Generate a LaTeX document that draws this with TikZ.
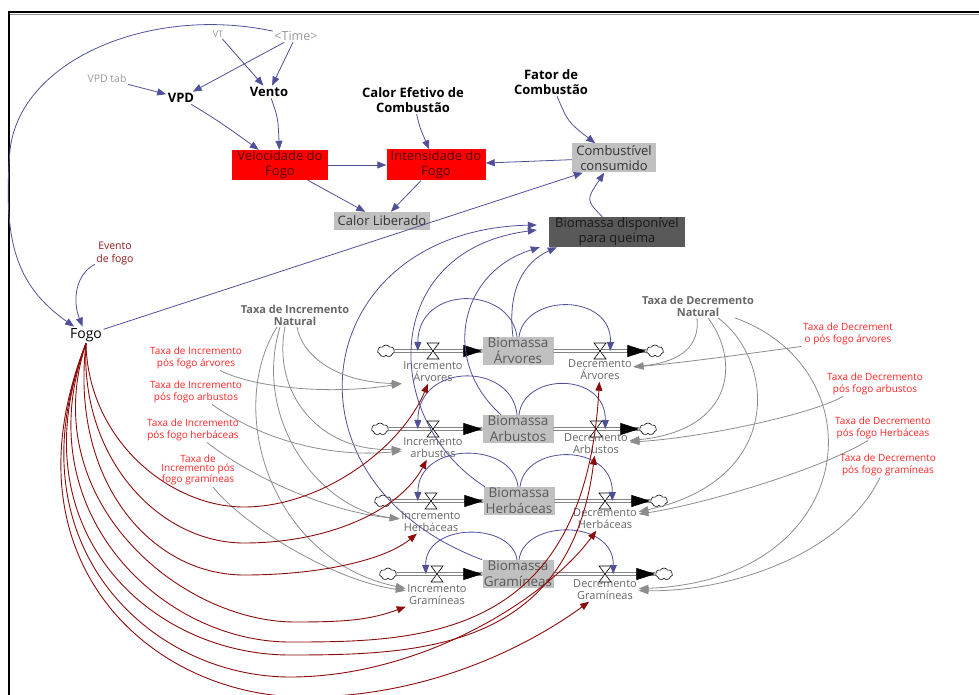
\documentclass[tikz,border=0pt]{standalone}
\usepackage{fontspec}
\setmainfont{Open Sans}
\usetikzlibrary{arrows.meta,shapes.symbols}

\definecolor{linkblue}{RGB}{80,80,152}
\definecolor{linkgray}{RGB}{140,140,140}
\definecolor{linkred}{RGB}{140,12,12}
\definecolor{labelred}{RGB}{255,35,35}
\definecolor{eventred}{RGB}{140,25,25}
\definecolor{boxgray}{RGB}{192,192,192}
\definecolor{boxdark}{RGB}{89,89,89}
\definecolor{boxtext}{RGB}{85,0,0}

\tikzset{
  blink/.style={draw=linkblue, line width=0.8pt, -{Triangle[length=9pt,width=7pt]}},
  glink/.style={draw=linkgray, line width=0.8pt, -{Triangle[length=10pt,width=7pt]}},
  rlink/.style={draw=linkred, line width=0.9pt, -{Triangle[length=9pt,width=7pt]}},
  shadowvar/.style={text=black!40, inner sep=1.5pt},
  mainvar/.style={font=\bfseries\fontsize{13}{15}\selectfont, align=center, inner sep=1.5pt},
  redbox/.style={fill=red, text=boxtext, font=\fontsize{13}{15}\selectfont, align=center, inner sep=1pt},
  graybox/.style={fill=boxgray, text=black!80, font=\fontsize{13}{15}\selectfont, align=center, inner sep=1pt},
  darkbox/.style={fill=boxdark, text=black!90, font=\fontsize{13}{15}\selectfont, align=center, inner sep=1pt},
  stock/.style={fill=boxgray, text=black!65, font=\fontsize{13.5}{16}\selectfont, align=center,
    minimum width=71pt, minimum height=28pt, inner sep=0pt},
  ratelbl/.style={text=black!60, font=\fontsize{11}{12}\selectfont, align=center, inner sep=1.5pt},
  ratevar/.style={text=black!60, font=\bfseries\fontsize{11}{12}\selectfont, align=center, inner sep=1.5pt},
  firelbl/.style={text=labelred, font=\fontsize{10}{11.5}\selectfont, align=center, inner sep=1.5pt},
  valve/.style={minimum width=12pt, minimum height=16pt, inner sep=0pt},
  sink/.style={cloud, cloud puffs=7, cloud puff arc=120, aspect=1.5, draw, fill=white,
    line width=0.6pt, minimum width=17pt, minimum height=12pt, inner sep=0pt},
  pipe/.style={draw=black!85, line width=0.6pt, double=white, double distance=2.2pt},
  pipetip/.style={line width=0.6pt, -{Triangle[length=19pt,width=12pt]}}
}
\newcommand\valvemark[1]{\draw[fill=white, line width=0.6pt, shift={(#1)}] (-6,-8) -- (6,-8) -- (-6,8) -- (6,8) -- cycle;}

\begin{document}
\begin{tikzpicture}[x=1pt,y=-1pt]
  \useasboundingbox (0,0) rectangle (979,695);
  %%%%% FRAME %%%%%
  \draw[line width=1.8pt] (9,695) -- (9,12) -- (979,12);
  \draw[black!40, line width=0.8pt] (10,14.6) -- (979,14.6);

  %%%%% FIRE %%%%%
  \node[shadowvar, font=\fontsize{12.5}{14}\selectfont] (time) at (296,36) {<Time>};
  \node[shadowvar, font=\fontsize{9}{10}\selectfont] (vt) at (218,34) {VT};
  \node[shadowvar, font=\fontsize{10.5}{12}\selectfont] (vpdtab) at (107,79) {VPD tab};
  \node[mainvar] (vpd) at (181,98) {VPD};
  \node[mainvar] (vento) at (269,92) {Vento};
  \node[mainvar] (calorefet) at (413,100) {Calor Efetivo de\\Combustão};
  \node[mainvar] (fator) at (551,82) {Fator de\\Combustão};
  \node[redbox, minimum width=96pt, minimum height=30pt] (velocidade) at (280,165) {Velocidade do\\Fogo};
  \node[redbox, minimum width=99pt, minimum height=31pt] (intensidade) at (436,165) {Intensidade do\\Fogo};
  \node[graybox, minimum width=96pt, minimum height=18pt] (calorlib) at (382,221) {Calor Liberado};
  \node[graybox, minimum width=84pt, minimum height=29pt] (combust) at (614,158) {Combustível\\consumido};
  \node[darkbox, minimum width=136pt, minimum height=30pt] (biodisp) at (617,232) {Biomassa disponível\\para queima};
  \node[text=eventred, font=\fontsize{10.5}{13}\selectfont, align=center, inner sep=1.5pt] (evento) at (115,254) {Evento\\de fogo};
  \node[font=\fontsize{14}{16}\selectfont, inner sep=1.5pt] (fogo) at (86,335) {Fogo};

  %%%%% RATES %%%%%
  \node[ratevar] (taxinc) at (295,315) {Taxa de Incremento\\Natural};
  \node[ratevar] (taxdec) at (698,306) {Taxa de Decremento\\Natural};
  \node[firelbl] (pfarv) at (196,358) {Taxa de Incremento\\pós fogo árvores};
  \node[firelbl] (pfarb) at (196,392) {Taxa de Incremento\\pós fogo arbustos};
  \node[firelbl] (pfherb) at (193,430) {Taxa de Incremento\\pós fogo herbáceas};
  \node[firelbl, font=\fontsize{10}{9.5}\selectfont] (pfgram) at (198,470) {Taxa de\\Incremento pós\\fogo gramíneas};
  \node[firelbl] (pfdarv) at (848,334) {Taxa de Decrement\\o pós fogo árvores};
  \node[firelbl] (pfdarb) at (875,384) {Taxa de Decremento\\pós fogo arbustos};
  \node[firelbl] (pfdherb) at (883,428) {Taxa de Decremento\\pós fogo Herbáceas};
  \node[firelbl] (pfdgram) at (888,465) {Taxa de Decremento\\pós fogo gramíneas};

  %%%%% STOCKS AND FLOWS %%%%%
  \node[stock] (stockarv) at (518,351) {Biomassa\\Árvores};
  \node[sink] (srcarv) at (386,351) {};
  \node[valve] (vinarv) at (433,351) {};
  \node[ratelbl] (incarv) at (433,372) {Incremento\\Árvores};
  \node[valve] (voutarv) at (600,351) {};
  \node[ratelbl] (decarv) at (600,370) {Decremento\\Árvores};
  \node[sink] (sinkarv) at (655,351) {};

  \node[stock] (stockarb) at (518,429) {Biomassa\\Arbustos};
  \node[sink] (srcarb) at (380,429) {};
  \node[valve] (vinarb) at (433,429) {};
  \node[ratelbl] (incarb) at (433,448) {Incremento\\arbustos};
  \node[valve] (voutarb) at (596,429) {};
  \node[ratelbl] (decarb) at (596,444) {Decremento\\Arbustos};
  \node[sink] (sinkarb) at (648,429) {};

  \node[stock] (stockherb) at (519,501) {Biomassa\\Herbáceas};
  \node[sink] (srcherb) at (383,501) {};
  \node[valve] (vinherb) at (431,501) {};
  \node[ratelbl] (incherb) at (431,522) {Incremento\\Herbáceas};
  \node[valve] (voutherb) at (605,501) {};
  \node[ratelbl] (decherb) at (605,519) {Decremento\\Herbáceas};
  \node[sink] (sinkherb) at (659,501) {};

  \node[stock] (stockgram) at (518,574) {Biomassa\\Gramíneas};
  \node[sink] (srcgram) at (388,574) {};
  \node[valve] (vingram) at (437,574) {};
  \node[ratelbl] (incgram) at (437,595) {Incremento\\Gramíneas};
  \node[valve] (voutgram) at (605,574) {};
  \node[ratelbl] (decgram) at (605,590) {Decremento\\Gramíneas};
  \node[sink] (sinkgram) at (664,574) {};

  \foreach \s in {arv,arb,herb,gram} {
    \draw[pipe] (src\s.east) -- (stock\s.west);
    \draw[pipetip] ([xshift=-19pt]stock\s.west) -- (stock\s.west);
    \draw[pipe] (stock\s.east) -- (sink\s.west);
    \draw[pipetip] ([xshift=-19pt]sink\s.west) -- (sink\s.west);
    \valvemark{vin\s}
    \valvemark{vout\s}
  }

  %%%%% LINKS %%%%%
  \draw[blink] (vt) -- (vento);
  \draw[blink] (time) -- (vento);
  \draw[blink] (time) -- (vpd);
  \draw[blink] (vpdtab) -- (vpd);
  \draw[blink] (vpd) .. controls (220,122) .. (velocidade);
  \draw[blink] (vento) .. controls (278,118) .. (velocidade);
  \draw[blink] (calorefet) .. controls (420,128) .. (intensidade);
  \draw[blink] (velocidade) -- (intensidade);
  \draw[blink] (combust) -- (intensidade);
  \draw[blink] (velocidade) -- (calorlib);
  \draw[blink] (intensidade) -- (calorlib);
  \draw[blink] (fator) .. controls (568,122) .. (combust);
  \draw[blink] (biodisp) .. controls (586,200) .. (combust);
  \draw[blink] (fogo) -- ([xshift=11pt]combust.south west);
  \draw[blink] (time) .. controls (150,5) and (20,60) .. (10,150) .. controls (3,240) and (15,285) .. (fogo);
  \draw[blink] (evento) .. controls (76,274) and (72,300) .. (fogo);

  \draw[blink] ([xshift=-5pt]stockarv.north) .. controls (507,290) and (524,262) .. ([xshift=8pt]biodisp.south west);
  \draw[blink] ([xshift=-17pt]stockarb.north) .. controls (440,360) and (460,272) .. ([xshift=-9pt]biodisp.south west);
  \draw[blink] ([xshift=-34pt]stockherb.north) .. controls (380,420) and (380,250) .. ([xshift=-12pt,yshift=2pt]biodisp.west);
  \draw[blink] (stockgram.north west) .. controls (270,480) and (310,230) .. ([xshift=-12pt,yshift=7pt]biodisp.west);

  \draw[blink] ([xshift=-1pt]stockarv.north) .. controls (510,285) and (418,285) .. ([xshift=-9pt]vinarv.west);
  \draw[blink] ([xshift=1pt]stockarv.north) .. controls (525,293) and (612,293) .. ([xshift=4pt]voutarv.east);
  \draw[blink] ([xshift=-1pt]stockarb.north) .. controls (512,362) and (418,362) .. ([xshift=-9pt]vinarb.west);
  \draw[blink] ([xshift=1pt]stockarb.north) .. controls (524,372) and (606,372) .. ([xshift=3pt]voutarb.east);
  \draw[blink] ([xshift=-1pt]stockherb.north) .. controls (513,441) and (418,441) .. ([xshift=-7pt]vinherb.west);
  \draw[blink] ([xshift=1pt]stockherb.north) .. controls (525,443) and (613,443) .. ([xshift=1pt]voutherb.east);
  \draw[blink] ([xshift=-1pt]stockgram.north) .. controls (512,522) and (425,522) .. ([xshift=-5pt]vingram.west);
  \draw[blink] ([xshift=1pt]stockgram.north) .. controls (524,519) and (614,519) .. ([xshift=2pt]voutgram.east);

  \draw[glink] ([xshift=2pt]taxinc.south) .. controls (302,355) and (335,382) .. (incarv.south west);
  \draw[glink] ([xshift=24pt]pfarv.south) .. controls (255,388) and (330,395) .. (incarv.south west);
  \draw[glink] ([xshift=-10pt]taxinc.south) .. controls (272,392) and (318,452) .. (incarb);
  \draw[glink] ([xshift=16pt]pfarb.south) .. controls (262,440) and (330,458) .. (incarb);
  \draw[glink] ([xshift=-15pt]taxinc.south) .. controls (252,420) and (320,510) .. (incherb);
  \draw[glink] ([xshift=14pt]pfherb.south) .. controls (252,478) and (330,512) .. (incherb);
  \draw[glink] ([xshift=-18pt]taxinc.south) .. controls (225,410) and (270,560) .. (incgram);
  \draw[glink] ([xshift=15pt]pfgram.south) .. controls (240,522) and (330,580) .. (incgram);

  \draw[glink] ([xshift=-1pt]taxdec.south) .. controls (700,345) and (682,362) .. (decarv);
  \draw[glink] (pfdarv.south west) .. controls (760,352) and (690,362) .. (decarv);
  \draw[glink] ([xshift=10pt]taxdec.south) .. controls (740,360) and (735,430) .. (decarb);
  \draw[glink] ([xshift=-32pt]pfdarb.south) .. controls (810,415) and (700,438) .. (decarb);
  \draw[glink] ([xshift=20pt]taxdec.south) .. controls (775,360) and (785,480) .. (decherb);
  \draw[glink] ([xshift=-15pt]pfdherb.south) .. controls (820,470) and (700,505) .. (decherb);
  \draw[glink] ([xshift=37pt]taxdec.south) .. controls (880,370) and (860,580) .. (decgram);
  \draw[glink] ([xshift=-8pt]pfdgram.south) .. controls (840,560) and (720,592) .. (decgram);

  \draw[rlink] (fogo.south) .. controls (88,440) and (170,507) .. (244,507) .. controls (320,507) and (400,450) .. (incarv);
  \draw[rlink] (fogo.south) .. controls (80,460) and (160,543) .. (244,543) .. controls (330,543) and (400,510) .. (incarb);
  \draw[rlink] (fogo.south) .. controls (70,480) and (150,575) .. (244,575) .. controls (320,575) and (385,560) .. (incherb);
  \draw[rlink] (fogo.south) .. controls (35,500) and (180,622) .. (295,622) .. controls (345,622) and (370,620) .. (incgram);
  \draw[rlink] (fogo.south) .. controls (25,510) and (160,642) .. (290,642) .. controls (420,642) and (585,640) .. (decarv);
  \draw[rlink] (fogo.south) .. controls (15,530) and (150,655) .. (290,655) .. controls (420,655) and (570,650) .. (decarb);
  \draw[rlink] (fogo.south) .. controls (8,545) and (150,677) .. (290,677) .. controls (420,677) and (545,600) .. (decherb);
  \draw[rlink] (fogo.south) .. controls (0,560) and (150,697) .. (305,697) .. controls (430,697) and (530,645) .. (decgram);
\end{tikzpicture}
\end{document}
